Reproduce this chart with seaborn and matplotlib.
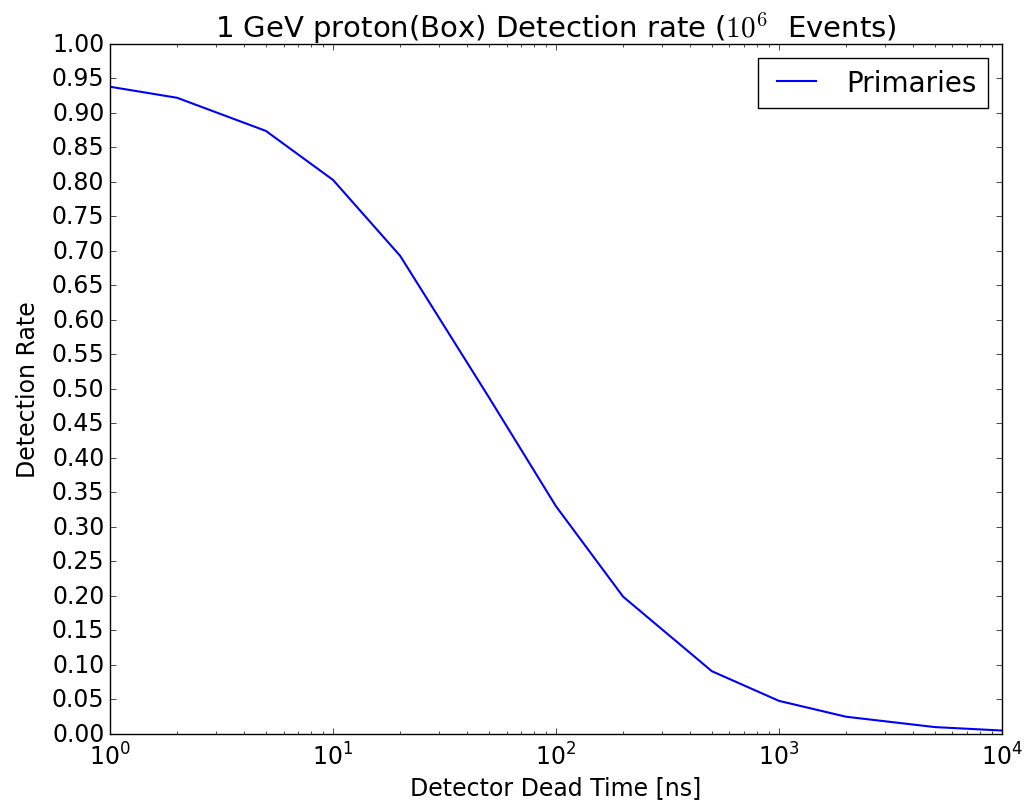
import matplotlib
matplotlib.use("Agg")
import matplotlib.pyplot as plt
import numpy as np
import pandas as pd
import seaborn as sns
from matplotlib.ticker import FormatStrFormatter, MultipleLocator

dead_time = [1, 2, 5, 10, 20, 50, 100, 200, 500, 1000, 2000, 5000, 10000]
rate = [0.938, 0.922, 0.874, 0.803, 0.693, 0.488, 0.330, 0.199, 0.091, 0.048, 0.025, 0.010, 0.005]
series_name = "Primaries"

plt.style.use("classic")
plt.rcParams["font.family"] = ["DejaVu Sans"]
plt.rcParams["mathtext.fontset"] = "cm"
plt.rcParams["figure.facecolor"] = "white"
plt.rcParams["savefig.facecolor"] = "white"

df = pd.DataFrame({"dead_time": dead_time, "rate": rate, "series": series_name})

fig = plt.figure(figsize=(10.34, 8.03), dpi=100)
ax = fig.add_axes([0.1064, 0.0847, 0.8626, 0.8593])
sns.lineplot(data=df, x="dead_time", y="rate", hue="series", palette=["blue"], ax=ax, linewidth=1.5)
ax.set_xscale("log")
ax.set_xlim(1, 1e4)
ax.set_ylim(0, 1.0)
ax.yaxis.set_major_locator(MultipleLocator(0.05))
ax.yaxis.set_major_formatter(FormatStrFormatter("%.2f"))
ax.tick_params(labelsize=17)
ax.tick_params(axis="x", which="major", pad=6)
ax.set_xlabel("Detector Dead Time [ns]", fontsize=17, labelpad=4)
ax.set_ylabel("Detection Rate", fontsize=17, labelpad=8)
ax.set_title(r"1 GeV proton(Box) Detection rate ($10^6$  Events)", fontsize=21)
leg = ax.legend(loc="upper right", fontsize=20)
leg.get_frame().set_linewidth(1.0)
fig.savefig("out.png", dpi=100)
